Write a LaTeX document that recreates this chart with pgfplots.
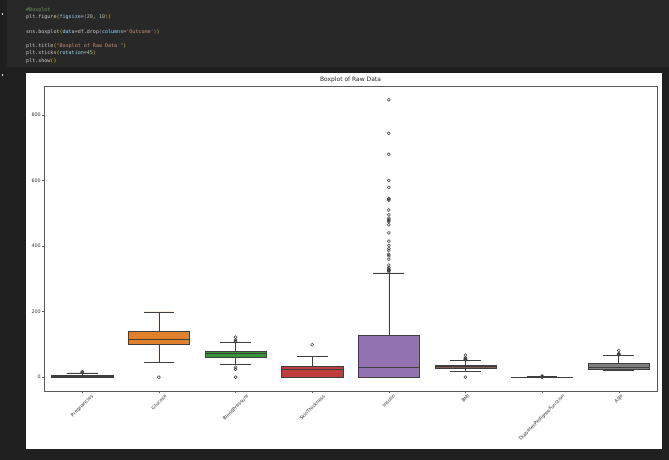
\documentclass[border=0pt]{standalone}
\usepackage{fontspec}
\setmainfont{DejaVu Sans}
\newfontfamily\codefont{DejaVu Sans Mono}
\usepackage{graphicx}
\usepackage{pgfplots}
\pgfplotsset{compat=1.18}
\usepgfplotslibrary{statistics}
\definecolor{bgout}{HTML}{1F1F1F}
\definecolor{bgcell}{HTML}{282828}
\definecolor{cc}{HTML}{6A9955}
\definecolor{ct}{HTML}{D4D4D4}
\definecolor{cb}{HTML}{FFD700}
\definecolor{cp}{HTML}{DA70D6}
\definecolor{cs}{HTML}{CE9178}
\definecolor{cn}{HTML}{B5CEA8}
\definecolor{cv}{HTML}{9CDCFE}
\definecolor{c0}{HTML}{3274A1}
\definecolor{c1}{HTML}{E1812C}
\definecolor{c2}{HTML}{3A923A}
\definecolor{c3}{HTML}{C03D3E}
\definecolor{c4}{HTML}{9372B2}
\definecolor{c5}{HTML}{845B53}
\definecolor{c6}{HTML}{D684BD}
\definecolor{c7}{HTML}{7F7F7F}
\definecolor{edge}{HTML}{3F3F3F}
\pgfplotsset{
  sbox/.style={draw=edge, line width=0.5bp, solid, mark=o, mark size=1.5bp,
    mark options={draw=edge, fill=none, line width=0.5bp, solid}},
}
\begin{document}
\begin{tikzpicture}[x=1bp,y=1bp]
\useasboundingbox (0,0) rectangle (669,460);
\fill[bgout] (0,0) rectangle (669,460);
\fill[bgcell] (7,393) rectangle (669,460);
\fill[white] (25.5,11) rectangle (661.5,387);
\fill[ct!60] (1.5,445) rectangle (3,447);
\fill[ct!60] (1.5,384) rectangle (3,386);
\begin{scope}[every node/.style={anchor=base west, inner sep=0pt, font=\codefont\fontsize{5.06}{6}\selectfont}]
\node at (26,448.5) {\textcolor{cc}{\#Boxplot}};
\node at (26,441.25) {\textcolor{ct}{plt.figure}\textcolor{cb}{(}\textcolor{cv}{figsize}\textcolor{ct}{=}\textcolor{cp}{(}\textcolor{cn}{20}\textcolor{ct}{, }\textcolor{cn}{10}\textcolor{cp}{)}\textcolor{cb}{)}};
\node at (26,426.75) {\textcolor{ct}{sns.boxplot}\textcolor{cb}{(}\textcolor{cv}{data}\textcolor{ct}{=df.drop}\textcolor{cp}{(}\textcolor{cv}{columns}\textcolor{ct}{=}\textcolor{cs}{'Outcome'}\textcolor{cp}{)}\textcolor{cb}{)}};
\node at (26,412.25) {\textcolor{ct}{plt.title}\textcolor{cb}{(}\textcolor{cs}{"Boxplot of Raw Data "}\textcolor{cb}{)}};
\node at (26,405) {\textcolor{ct}{plt.xticks}\textcolor{cb}{(}\textcolor{cv}{rotation}\textcolor{ct}{=}\textcolor{cn}{45}\textcolor{cb}{)}};
\node at (26,397.75) {\textcolor{ct}{plt.show}\textcolor{cb}{()}};
\end{scope}
\begin{axis}[
  at={(44bp,69bp)}, anchor=south west, scale only axis,
  width=613bp, height=305bp,
  xmin=-0.5, xmax=7.5, ymin=-42.3, ymax=888.3,
  xtick={0,1,2,3,4,5,6,7},
  xticklabels={\rotatebox{45}{Pregnancies},\rotatebox{45}{Glucose},\rotatebox{45}{BloodPressure},\rotatebox{45}{SkinThickness},\rotatebox{45}{Insulin},\rotatebox{45}{BMI},\rotatebox{45}{DiabetesPedigreeFunction},\rotatebox{45}{Age}},
  ytick={0,200,400,600,800},
  tick align=outside, tick pos=left,
  major tick length=1.6bp,
  axis line style={black!65, line width=0.45bp},
  tick style={black!65, line width=0.4bp},
  ticklabel style={font=\fontsize{4.8}{5.5}\selectfont, text=black!80},
  xticklabel style={anchor=north, inner sep=1.2bp},
  yticklabel style={inner sep=1.5bp},
  /pgf/number format/assume math mode=true,
  title={Boxplot of Raw Data},
  title style={font=\fontsize{6}{7}\selectfont, text=black!85, inner sep=1.5bp, yshift=-4.5bp},
  boxplot/draw direction=y,
  clip=false,
]
\addplot[sbox, fill=c0, boxplot prepared={draw position=0, lower whisker=0, lower quartile=1, median=3, upper quartile=6, upper whisker=13, box extend=0.8, whisker extend=0.4}]
  table[row sep=\\, y index=0] {data\\ 14\\ 15\\ 17\\};
\addplot[sbox, fill=c1, boxplot prepared={draw position=1, lower whisker=44, lower quartile=99, median=117, upper quartile=140.25, upper whisker=199, box extend=0.8, whisker extend=0.4}]
  table[row sep=\\, y index=0] {data\\ 0\\};
\addplot[sbox, fill=c2, boxplot prepared={draw position=2, lower whisker=38, lower quartile=62, median=72, upper quartile=80, upper whisker=106, box extend=0.8, whisker extend=0.4}]
  table[row sep=\\, y index=0] {data\\ 0\\ 24\\ 30\\ 108\\ 110\\ 114\\ 122\\};
\addplot[sbox, fill=c3, boxplot prepared={draw position=3, lower whisker=0, lower quartile=0, median=23, upper quartile=32, upper whisker=63, box extend=0.8, whisker extend=0.4}]
  table[row sep=\\, y index=0] {data\\ 99\\};
\addplot[sbox, fill=c4, boxplot prepared={draw position=4, lower whisker=0, lower quartile=0, median=30.5, upper quartile=127.25, upper whisker=318, box extend=0.8, whisker extend=0.4}]
  table[row sep=\\, y index=0] {data\\ 321\\ 325\\ 326\\ 328\\ 330\\ 335\\ 342\\ 360\\ 370\\ 375\\ 387\\ 392\\ 402\\ 415\\ 440\\ 465\\ 474\\ 478\\ 480\\ 485\\ 495\\ 510\\ 540\\ 543\\ 545\\ 579\\ 600\\ 680\\ 744\\ 846\\};
\addplot[sbox, fill=c5, boxplot prepared={draw position=5, lower whisker=18.2, lower quartile=27.3, median=32, upper quartile=36.6, upper whisker=50, box extend=0.8, whisker extend=0.4}]
  table[row sep=\\, y index=0] {data\\ 0\\ 52.3\\ 52.9\\ 53.2\\ 55\\ 57.3\\ 59.4\\ 67.1\\};
\addplot[sbox, fill=c6, boxplot prepared={draw position=6, lower whisker=0.078, lower quartile=0.244, median=0.3725, upper quartile=0.626, upper whisker=1.191, box extend=0.8, whisker extend=0.4}]
  table[row sep=\\, y index=0] {data\\ 1.222\\ 1.251\\ 1.292\\ 1.353\\ 1.441\\ 1.6\\ 1.731\\ 1.893\\ 2.137\\ 2.329\\ 2.42\\};
\addplot[sbox, fill=c7, boxplot prepared={draw position=7, lower whisker=21, lower quartile=24, median=29, upper quartile=41, upper whisker=66, box extend=0.8, whisker extend=0.4}]
  table[row sep=\\, y index=0] {data\\ 67\\ 68\\ 69\\ 70\\ 72\\ 81\\};
\end{axis}
\end{tikzpicture}
\end{document}
